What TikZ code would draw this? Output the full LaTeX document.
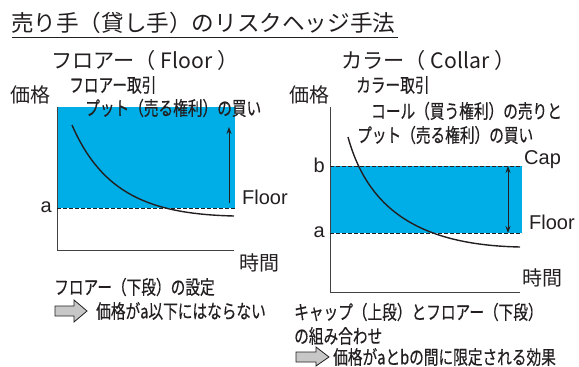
\documentclass[tikz,border=0pt]{standalone}
\usepackage{fontspec}
\usetikzlibrary{arrows.meta}
\setmainfont{Liberation Sans}
\newfontfamily\jp{Noto Sans CJK JP}
\newfontfamily\jpn[FakeStretch=0.76,FakeBold=0.4]{Noto Sans CJK JP}
\definecolor{hedge}{RGB}{0,174,231}
\definecolor{ink}{RGB}{35,31,32}
\begin{document}
\begin{tikzpicture}[x=1pt,y=-1pt,
  lbl/.style={inner sep=0, anchor=west, text=ink},
  title/.style={lbl, font=\jp\fontsize{22.6}{22.6}\selectfont},
  head/.style={lbl, font=\jp\fontsize{21.2}{21.2}\selectfont},
  axlbl/.style={lbl, font=\jp\fontsize{20}{20}\selectfont},
  small/.style={lbl, font=\jpn\fontsize{19.3}{19.3}\selectfont},
  latin/.style={lbl, font=\fontsize{20}{20}\selectfont},
  axis/.style={draw=ink!85, line width=0.9pt},
  level/.style={draw=ink, line width=0.8pt, dash pattern=on 3.5pt off 2.5pt},
  trend/.style={draw=ink, line width=1.4pt},
  band/.style={fill=hedge},
  span/.style={draw=ink, line width=0.8pt},
  blockarrow/.style={fill=black!22, draw=ink, line width=0.8pt}]
\useasboundingbox (0,0) rectangle (579,367);
% title
\node[title] (ttl) at (11,23) {売り手（貸し手）のリスクヘッジ手法};
\coordinate (ulA) at (12,37);
\coordinate (ulB) at (398,37);
\draw[ink, line width=0.9pt] (ulA) -- (ulB);

% ---------- left panel: Floor ----------
\fill[band] (57,107) rectangle (235,208);
\coordinate (LyTop) at (57,107);
\coordinate (Lo) at (57,250);
\coordinate (LxEnd) at (234,250);
\draw[axis] (LyTop) -- (Lo) -- (LxEnd);
\coordinate (LaA) at (57,208);
\coordinate (LaB) at (235,208);
\draw[level] (LaA) -- (LaB);
\coordinate (Lc0) at (72,125);
\coordinate (Lc1) at (234,216);
\draw[trend] (Lc0) .. controls (102,194) and (150,214) .. (Lc1);
\coordinate (LarA) at (229,203);
\coordinate (LarB) at (229,127);
\draw[span, -{Stealth[length=7pt,width=5pt]}] (LarA) -- (LarB);

\node[head] (LH) at (51,60) {フロアー（ Floor ）};
\node[axlbl] (Lprice) at (10,95) {価格};
\node[small] (Lt1) at (69,85) {フロアー取引};
\node[small] (Lt2) at (85,108) {プット（売る権利）の買い};
\node[latin, anchor=east] (La) at (52,207) {a};
\node[latin] (Lfloor) at (242,197) {Floor};
\node[axlbl] (Ltime) at (239,263) {時間};
\node[small] (Lnote) at (54,287) {フロアー（下段）の設定};
\draw[blockarrow] (55,306) -- (74,306) -- (74,300) -- (87,311) -- (74,322) -- (74,316) -- (55,316) -- cycle;
\node[small] (Lres) at (96,311) {価格がa以下にはならない};

% ---------- right panel: Collar ----------
\fill[band] (330,166) rectangle (522,233);
\coordinate (RyTop) at (330,107);
\coordinate (Ro) at (330,292);
\coordinate (RxEnd) at (520,292);
\draw[axis] (RyTop) -- (Ro) -- (RxEnd);
\coordinate (RbA) at (330,166);
\coordinate (RbB) at (522,166);
\coordinate (RaA) at (330,233);
\coordinate (RaB) at (522,233);
\draw[level] (RbA) -- (RbB);
\draw[level] (RaA) -- (RaB);
\coordinate (Rc0) at (348,137);
\coordinate (Rc1) at (520,247);
\draw[trend] (Rc0) .. controls (368,210) and (420,245) .. (Rc1);
\coordinate (RarA) at (508,166);
\coordinate (RarB) at (508,233);
\draw[span, {Stealth[length=7pt,width=5pt]}-{Stealth[length=7pt,width=5pt]}] (RarA) -- (RarB);

\node[head] (RH) at (341,60) {カラー（ Collar ）};
\node[axlbl] (Rprice) at (289,95) {価格};
\node[small] (Rt1) at (356,85) {カラー取引};
\node[small] (Rt2) at (371,111) {コール（買う権利）の売りと};
\node[small] (Rt3) at (357,135) {プット（売る権利）の買い};
\node[latin, anchor=east] (Rb) at (325,165) {b};
\node[latin, anchor=east] (Ra) at (325,232) {a};
\node[latin] (Rcap) at (524,160) {Cap};
\node[latin] (Rfloor) at (529,222) {Floor};
\node[axlbl] (Rtime) at (522,278) {時間};
\node[small] (Rnote1) at (294,312) {キャップ（上段）とフロアー（下段）};
\node[small] (Rnote2) at (294,336) {の組み合わせ};
\draw[blockarrow] (296,352) -- (316,352) -- (316,347) -- (329,357) -- (316,366) -- (316,362) -- (296,362) -- cycle;
\node[small] (Rres) at (333,357) {価格がaとbの間に限定される効果};
\end{tikzpicture}
\end{document}
